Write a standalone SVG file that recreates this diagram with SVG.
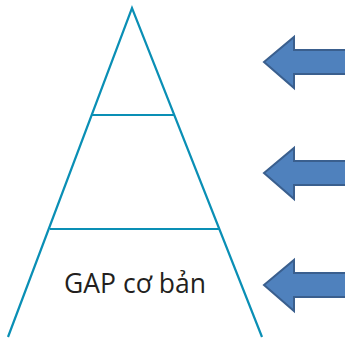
<svg xmlns="http://www.w3.org/2000/svg" width="345" height="338" viewBox="0 0 345 338">
<defs>
<style>
.ln{stroke:#0a8fb5;stroke-width:2.2;fill:none}
.arr{fill:#4f81bd;stroke:#3a5f8e;stroke-width:2;stroke-linejoin:miter}
.lbl{font-family:"Open Sans","Noto Sans",sans-serif;font-size:26.5px;fill:#231f20}
</style>
<polygon id="arrowShape" class="arr" points="0,0 30,-25 30,-12 82,-12 82,12 30,12 30,26"/>
</defs>
<g id="connectors">
<polyline class="ln" points="8,337 132,8 262,337"/>
<line class="ln" x1="92" y1="115" x2="174" y2="115"/>
<line class="ln" x1="50" y1="229" x2="219" y2="229"/>
</g>
<g id="level-base">
<text class="lbl" x="135" y="293" text-anchor="middle">GAP cơ bản</text>
</g>
<g id="arrow-1"><use href="#arrowShape" x="264" y="62"/></g>
<g id="arrow-2"><use href="#arrowShape" x="264" y="173"/></g>
<g id="arrow-3"><use href="#arrowShape" x="264" y="285"/></g>
</svg>
